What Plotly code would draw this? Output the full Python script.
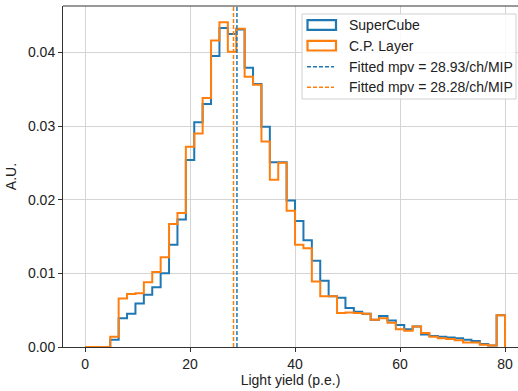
import plotly.graph_objects as go

# 50 bins of width 1.6 from 0 to 80
bin_lo = 0.0
bin_hi = 80.0
n_bins = 50

supercube = [0, 0, 0, 0.0010, 0.0039, 0.0045, 0.0059, 0.0071, 0.0081, 0.0100,
             0.0139, 0.0173, 0.0254, 0.0305, 0.0330, 0.0395, 0.0433, 0.0425, 0.0431, 0.0379,
             0.0357, 0.0299, 0.0251, 0.0251, 0.0199, 0.0171, 0.0145, 0.0117, 0.0090, 0.0069,
             0.0067, 0.0053, 0.0048, 0.0045, 0.0037, 0.0042, 0.0036, 0.0030, 0.0024, 0.0028,
             0.0017, 0.0015, 0.0014, 0.0013, 0.0012, 0.0010, 0.0008, 0.0004, 0.0002, 0.0043]
cplayer = [0, 0, 0, 0.0014, 0.0066, 0.0072, 0.0073, 0.0088, 0.0102, 0.0122,
           0.0167, 0.0182, 0.0272, 0.0290, 0.0338, 0.0416, 0.0441, 0.0401, 0.0432, 0.0367,
           0.0356, 0.0279, 0.0227, 0.0250, 0.0185, 0.0139, 0.0134, 0.0089, 0.0069, 0.0069,
           0.0046, 0.0047, 0.0046, 0.0045, 0.0037, 0.0039, 0.0033, 0.0024, 0.0022, 0.0028,
           0.0019, 0.0014, 0.0012, 0.0011, 0.0009, 0.0006, 0.0006, 0.0003, 0.0002, 0.0043]
mpv_supercube = 28.93
mpv_cplayer = 28.28

x_ticks = [0, 20, 40, 60, 80]
y_ticks = [0.00, 0.01, 0.02, 0.03, 0.04]
y_max = 0.0463

BLUE = "#1f77b4"
ORANGE = "#ff7f0e"
FONT = "Liberation Sans, Arial, sans-serif"

W, H = 518, 391
ML, MR, MT, MB = 63, 0, 6, 44
PW, PH = W - ML - MR, H - MT - MB

width = (bin_hi - bin_lo) / n_bins
edges = [bin_lo + i * width for i in range(n_bins + 1)]


def step_xy(vals):
    xs = list(edges[:-1]) + [edges[-1], edges[-1]]
    ys = list(vals) + [vals[-1], 0]
    return xs, ys


def px(x):
    return (x - ML) / PW


def py(y):
    return (H - MB - y) / PH


fig = go.Figure()
for name, vals, col in [("SuperCube", supercube, BLUE), ("C.P. Layer", cplayer, ORANGE)]:
    xs, ys = step_xy(vals)
    fig.add_trace(go.Scatter(x=xs, y=ys, mode="lines", name=name,
                             line=dict(color=col, width=2, shape="hv"),
                             showlegend=False))

mpv_entries = [(mpv_supercube, BLUE), (mpv_cplayer, ORANGE)]
for m, col in mpv_entries:
    fig.add_trace(go.Scatter(x=[m, m], y=[0, y_max], mode="lines",
                             name=f"Fitted mpv = {m:.2f}/ch/MIP", showlegend=False,
                             line=dict(color=col, width=1.5, dash="4px,2px")))

# hand-drawn matplotlib-style legend
shapes = [dict(type="line", xref="paper", yref="paper", x0=0, x1=1, y0=1, y1=1,
               line=dict(color="#333333", width=1), layer="above")]
annotations = []
shapes.append(dict(type="rect", xref="paper", yref="paper",
                   x0=px(302), x1=px(516), y0=py(99), y1=py(14),
                   fillcolor="rgba(255,255,255,0.85)", line=dict(color="#d0d0d0", width=1),
                   layer="above"))
rows = [25, 45.7, 66.7, 87.3]
labels = ["SuperCube", "C.P. Layer"] + [f"Fitted mpv = {m:.2f}/ch/MIP" for m, _ in mpv_entries]
cols = [BLUE, ORANGE, BLUE, ORANGE]
for i, (ry, lab, col) in enumerate(zip(rows, labels, cols)):
    if i < 2:
        shapes.append(dict(type="rect", xref="paper", yref="paper",
                           x0=px(307.5), x1=px(336), y0=py(ry + 4.8), y1=py(ry - 4.8),
                           line=dict(color=col, width=2.2), fillcolor="rgba(0,0,0,0)",
                           layer="above"))
    else:
        shapes.append(dict(type="line", xref="paper", yref="paper",
                           x0=px(307), x1=px(334), y0=py(ry), y1=py(ry),
                           line=dict(color=col, width=1.5, dash="4px,2px"), layer="above"))
    annotations.append(dict(x=px(347), y=py(ry), xref="paper", yref="paper",
                            text=lab, showarrow=False, xanchor="left", yanchor="middle",
                            font=dict(family=FONT, size=14, color="#222222")))

axis_common = dict(showgrid=True, gridcolor="#d4d4d4", gridwidth=1, zeroline=False,
                   showline=True, linecolor="#333333", linewidth=1,
                   ticks="outside", ticklen=4, tickcolor="#333333",
                   tickfont=dict(size=14, color="#222222"))

fig.update_layout(
    width=W, height=H,
    margin=dict(l=ML, r=MR, t=MT, b=MB),
    paper_bgcolor="white", plot_bgcolor="white",
    font=dict(family=FONT, size=14, color="#222222"),
    showlegend=False,
    xaxis=dict(range=[-4.2, 82.47], tickvals=x_ticks, ticktext=[str(v) for v in x_ticks],
               title=dict(text="Light yield (p.e.)", font=dict(size=14), standoff=4),
               **axis_common),
    yaxis=dict(range=[0, y_max], tickvals=y_ticks, ticktext=[f"{v:.2f}" for v in y_ticks],
               title=dict(text="A.U.", font=dict(size=14), standoff=8),
               **axis_common),
    shapes=shapes,
    annotations=annotations,
)

fig.write_html("out.html")
